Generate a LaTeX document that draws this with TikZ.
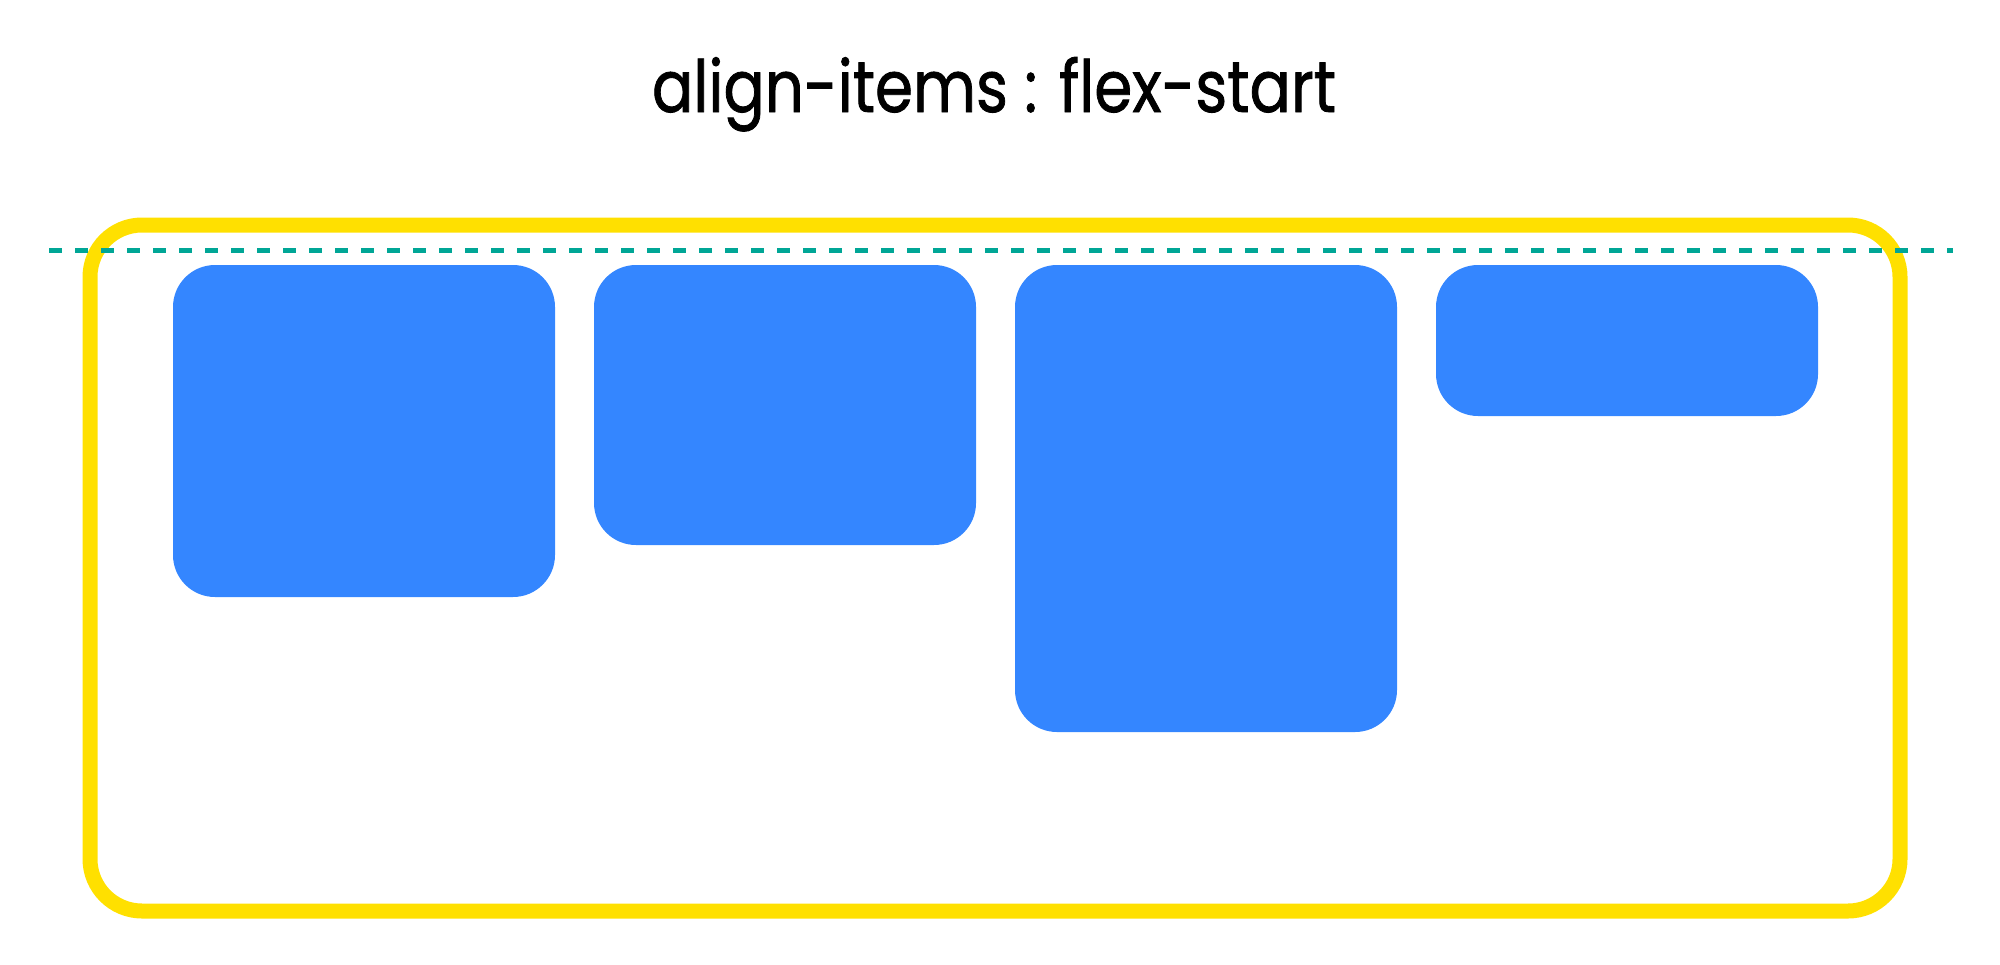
\documentclass[tikz,border=0pt]{standalone}
\usepackage{fontspec}
\setmainfont{Poppins}[FakeBold=1.2]
\definecolor{boxyellow}{RGB}{255,224,0}
\definecolor{itemblue}{RGB}{52,134,255}
\definecolor{lineteal}{RGB}{0,166,150}
\tikzset{
  container/.style={draw=boxyellow, line width=7.5pt, rounded corners=26pt, inner sep=0pt, outer sep=0pt, anchor=north west},
  itembox/.style={fill=itemblue, rounded corners=21pt, inner sep=0pt, outer sep=0pt, anchor=north west, minimum width=191pt},
  startline/.style={draw=lineteal, line width=2.5pt, dash pattern=on 6.5pt off 6.5pt},
  titletext/.style={font=\fontsize{36}{40}\selectfont, inner sep=0pt, anchor=base}
}
\begin{document}
\begin{tikzpicture}[x=0.5pt,y=-0.5pt]
\useasboundingbox (0,0) rectangle (2000,964);
\node[titletext] (title) at (994,112) {\scalebox{0.85}[1]{align-items : flex-start}};
\node[container, minimum width=905pt, minimum height=343pt] (cont) at (90,225) {};
\node[itembox, minimum height=166pt] (b1) at (173,265) {};
\node[itembox, minimum height=140pt] (b2) at (594,265) {};
\node[itembox, minimum height=233.5pt] (b3) at (1015,265) {};
\node[itembox, minimum height=75.5pt] (b4) at (1436,265) {};
\coordinate (ls) at (49,250);
\coordinate (le) at (1953,250);
\draw[startline] (ls) -- (le);
\end{tikzpicture}
\end{document}
